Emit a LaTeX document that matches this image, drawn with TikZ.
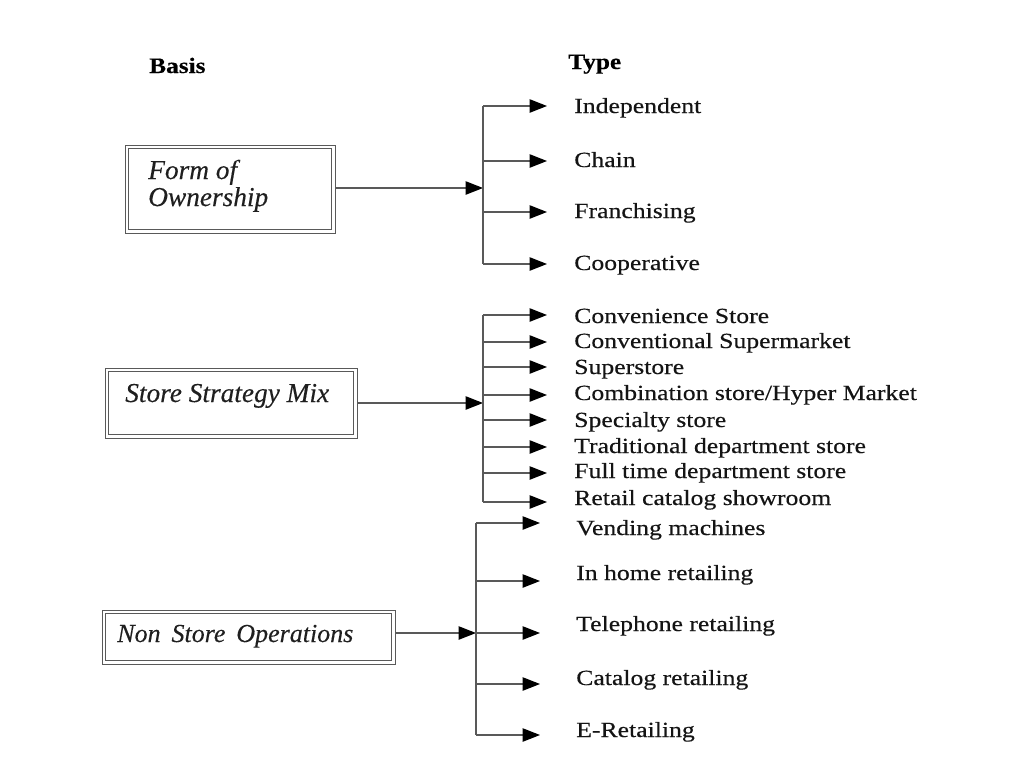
\documentclass[tikz,border=0pt]{standalone}
\usepackage{fontspec}
\setmainfont{Liberation Serif}
\newfontfamily\itemfont[FakeStretch=1.19,FakeBold=0.35]{Liberation Serif}
\newfontfamily\headfont[FakeStretch=1.15,FakeBold=0.3]{Liberation Serif}
\newfontfamily\boxfont[FakeBold=0.25]{Liberation Serif}
\usetikzlibrary{arrows.meta}
\begin{document}
\begin{tikzpicture}[x=0.75pt,y=-0.75pt,
  conn/.style={draw=black!65, line width=0.9pt},
  arr/.style={conn, -{Triangle[length=13pt,width=10pt,color=black]}},
  basisbox/.style={rectangle, draw=black!65, line width=0.7pt, inner sep=0pt},
  boxline/.style={draw=black!65, line width=0.7pt},
  item/.style={anchor=base west, inner sep=0pt, text=black!92, font=\itemfont\fontsize{16.2}{18}\selectfont},
  boxtext/.style={inner sep=0pt, text=black!88, font=\boxfont\itshape\fontsize{20.5}{20.25}\selectfont},
  head/.style={anchor=base west, inner sep=0pt, text=black, font=\headfont\bfseries\fontsize{16.5}{18}\selectfont}]
\useasboundingbox (0,0) rectangle (1024,768);

% headings
\node[head] (basis) at (149,73) {Basis};
\node[head] (type) at (568,69) {Type};

% basis boxes (double frame)
\node[basisbox, minimum width=157.5pt, minimum height=66pt] (own) at (230,189) {};
\draw[boxline] ([shift={(4,4)}]own.north west) rectangle ([shift={(-4,-4)}]own.south east);
\node[boxtext, anchor=north west, align=left] (owntxt) at (148,159.5) {Form of\\Ownership};
\node[basisbox, minimum width=189pt, minimum height=52.5pt] (mix) at (231,403) {};
\draw[boxline] ([shift={(4,4)}]mix.north west) rectangle ([shift={(-4,-4)}]mix.south east);
\node[boxtext, anchor=base west] (mixtxt) at (125,402) {Store Strategy Mix};
\node[basisbox, minimum width=219.75pt, minimum height=40.5pt] (nso) at (248.5,637) {};
\draw[boxline] ([shift={(4,4)}]nso.north west) rectangle ([shift={(-4,-4)}]nso.south east);
\node[boxtext, anchor=base west, font=\boxfont\itshape\fontsize{19.5}{20}\selectfont] (nsotxt) at (117,642) {Non\hspace{0.42em}Store\hspace{0.42em}Operations};

% ---------- group 1 ----------
\coordinate (j1) at (483,188);
\coordinate (e11) at (547,106);
\coordinate (e12) at (547,161);
\coordinate (e13) at (547,212);
\coordinate (e14) at (547,264);
\draw[arr] (own.east |- j1) -- (j1);
\draw[conn] (j1 |- e11) -- (j1 |- e14);
\draw[arr] (j1 |- e11) -- (e11);
\draw[arr] (j1 |- e12) -- (e12);
\draw[arr] (j1 |- e13) -- (e13);
\draw[arr] (j1 |- e14) -- (e14);
\node[item] (i11) at (574,113) {Independent};
\node[item] (i12) at (574,167) {Chain};
\node[item] (i13) at (574,218) {Franchising};
\node[item] (i14) at (574,270) {Cooperative};

% ---------- group 2 ----------
\coordinate (j2) at (483,403);
\coordinate (e21) at (547,315);
\coordinate (e22) at (547,342);
\coordinate (e23) at (547,367);
\coordinate (e24) at (547,395);
\coordinate (e25) at (547,420);
\coordinate (e26) at (547,447);
\coordinate (e27) at (547,473);
\coordinate (e28) at (547,502);
\draw[arr] (mix.east |- j2) -- (j2);
\draw[conn] (j2 |- e21) -- (j2 |- e28);
\draw[arr] (j2 |- e21) -- (e21);
\draw[arr] (j2 |- e22) -- (e22);
\draw[arr] (j2 |- e23) -- (e23);
\draw[arr] (j2 |- e24) -- (e24);
\draw[arr] (j2 |- e25) -- (e25);
\draw[arr] (j2 |- e26) -- (e26);
\draw[arr] (j2 |- e27) -- (e27);
\draw[arr] (j2 |- e28) -- (e28);
\node[item] (i21) at (574,323) {Convenience Store};
\node[item] (i22) at (574,348) {Conventional Supermarket};
\node[item] (i23) at (574,374) {Superstore};
\node[item] (i24) at (574,400) {Combination store/Hyper Market};
\node[item] (i25) at (574,427) {Specialty store};
\node[item] (i26) at (574,453) {Traditional department store};
\node[item] (i27) at (574,478) {Full time department store};
\node[item] (i28) at (574,505) {Retail catalog showroom};

% ---------- group 3 ----------
\coordinate (j3) at (476,633);
\coordinate (e31) at (540,523);
\coordinate (e32) at (540,581);
\coordinate (e33) at (540,633);
\coordinate (e34) at (540,684);
\coordinate (e35) at (540,735);
\draw[arr] (nso.east |- j3) -- (j3);
\draw[conn] (j3 |- e31) -- (j3 |- e35);
\draw[arr] (j3 |- e31) -- (e31);
\draw[arr] (j3 |- e32) -- (e32);
\draw[arr] (j3 |- e33) -- (e33);
\draw[arr] (j3 |- e34) -- (e34);
\draw[arr] (j3 |- e35) -- (e35);
\node[item] (i31) at (576,535) {Vending machines};
\node[item] (i32) at (576,580) {In home retailing};
\node[item] (i33) at (576,631) {Telephone retailing};
\node[item] (i34) at (576,685) {Catalog retailing};
\node[item] (i35) at (576,737) {E-Retailing};
\end{tikzpicture}
\end{document}
